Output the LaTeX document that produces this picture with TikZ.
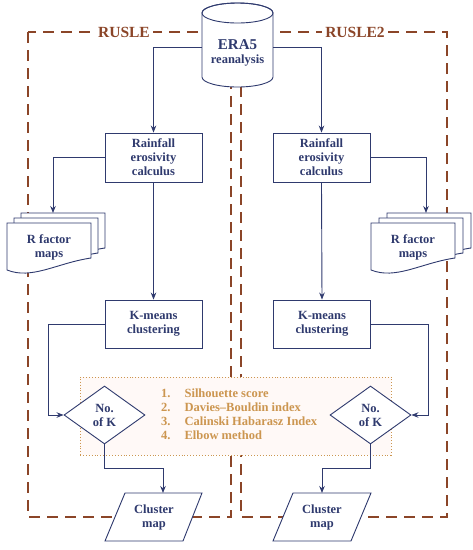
\documentclass[tikz,border=0pt]{standalone}
\usepackage{fontspec}
\setmainfont{Liberation Serif}
\usetikzlibrary{shapes.geometric,arrows.meta,calc}
\definecolor{navy}{RGB}{47,58,110}
\definecolor{frame}{RGB}{139,69,40}
\definecolor{gold}{RGB}{204,150,80}
\definecolor{pinkbg}{RGB}{255,249,247}
\newcommand\docshape[2]{\draw[shp] ($(#1,#2)$) -- ($(#1,#2)+(84,0)$) -- ($(#1,#2)+(84,35)$) .. controls ($(#1,#2)+(50,40)$) and ($(#1,#2)+(25,57)$) .. ($(#1,#2)+(0,47)$) -- cycle;}
\begin{document}
\begin{tikzpicture}[x=1pt,y=-1pt,
 every node/.style={font=\bfseries\fontsize{12.5}{14}\selectfont, text=navy, align=center},
 proc/.style={draw=navy, line width=0.9pt, fill=white, minimum width=97pt, minimum height=49pt, inner sep=0pt},
 dec/.style={diamond, draw=navy, line width=0.9pt, fill=white, minimum width=81pt, minimum height=58pt, inner sep=0pt},
 arr/.style={draw=navy, line width=0.9pt, -{Stealth[length=7pt,width=5.5pt]}},
 fr/.style={draw=frame, line width=1.5pt, dash pattern=on 11pt off 7pt},
 ttl/.style={font=\bfseries\fontsize{15.5}{17}\selectfont, text=frame, fill=white, inner sep=3pt},
 shp/.style={draw=navy, line width=0.9pt, fill=white},
 lbl/.style={inner sep=0pt}]
\useasboundingbox (0,0) rectangle (473,550);
% frames
\draw[fr] (28,32) rectangle (231,517);
\draw[fr] (241,32) rectangle (447,517);
\node[ttl] (t1) at (124,32) {RUSLE};
\node[ttl] (t2) at (355,32) {RUSLE2};
% metrics box
\node[draw=gold, dotted, line width=0.9pt, fill=pinkbg, minimum width=311pt, minimum height=78pt, inner sep=0pt] (mbox) at (235.5,416) {};
\node[anchor=north west, text=gold, align=left, inner sep=0pt] (met) at (161,387.5)
 {\begin{tabular}{@{}l@{\hspace{14pt}}l@{}}1. & Silhouette score\\ 2. & Davies–Bouldin index\\ 3. & Calinski Habarasz Index\\ 4. & Elbow method\end{tabular}};
% cylinder
\draw[shp] (202,13) -- (202,77) arc[start angle=180,end angle=360,x radius=35.5pt,y radius=10pt] -- (273,13) arc[start angle=0,end angle=180,x radius=35.5pt,y radius=10pt] -- cycle;
\draw[navy, line width=0.9pt] (237.5,13) ellipse [x radius=35.5pt, y radius=10pt];
\node[minimum width=71pt, minimum height=40pt, inner sep=0pt] (era) at (237.5,53) {{\fontsize{15}{16}\selectfont ERA5}\\{\fontsize{12.5}{13}\selectfont reanalysis}};
% process boxes
\node[proc] (rf1) at (153.5,157.5) {Rainfall\\erosivity\\calculus};
\node[proc] (rf2) at (321.5,157.5) {Rainfall\\erosivity\\calculus};
\node[proc, minimum height=48pt] (km1) at (153.5,324) {K-means\\clustering};
\node[proc, minimum height=48pt] (km2) at (322,324) {K-means\\clustering};
% documents
\docshape{21}{213}\docshape{14}{218}\docshape{7}{223}
\docshape{387}{213}\docshape{379}{218}\docshape{371}{223}
\node[lbl] (rm1) at (49,247) {R factor\\maps};
\node[lbl] (rm2) at (413,247) {R factor\\maps};
% diamonds
\node[dec] (dk1) at (104.5,415) {No.\\of K};
\node[dec] (dk2) at (370.5,415) {No.\\of K};
% cluster maps
\draw[shp] (125,493) -- (202,493) -- (183,541) -- (105,541) -- cycle;
\draw[shp] (293,493) -- (371,493) -- (351,541) -- (273,541) -- cycle;
\node[lbl, minimum height=48pt] (cm1) at (154,517) {Cluster\\map};
\node[lbl, minimum height=48pt] (cm2) at (322,517) {Cluster\\map};
% coordinates
\coordinate (d1) at (53,213);
\coordinate (d2) at (426,213);
\coordinate (b1) at (48,324);
\coordinate (b2) at (428,324);
\coordinate (c1) at (163,493);
\coordinate (c2) at (322,493);
\coordinate (e1) at ($(era.west)+(0,-6)$);
\coordinate (e2) at ($(era.east)+(0,-6)$);
% connectors
\draw[arr] (e1) -| (rf1.north);
\draw[arr] (e2) -| (rf2.north);
\draw[arr] (rf1.west) -| (d1);
\draw[arr] (rf2.east) -| (d2);
\draw[arr] (rf1.south) -- (km1.north);
\draw[arr] (rf2.south) -- (km2.north);
\draw[arr] (km1.west) -- (b1) |- (dk1.west);
\draw[arr] (km2.east) -- (b2) |- (dk2.east);
\draw[arr] (dk1.south) -- ++(0,24) -| (c1);
\draw[arr] (dk2.south) -- ++(0,24) -| (c2);
\end{tikzpicture}
\end{document}
